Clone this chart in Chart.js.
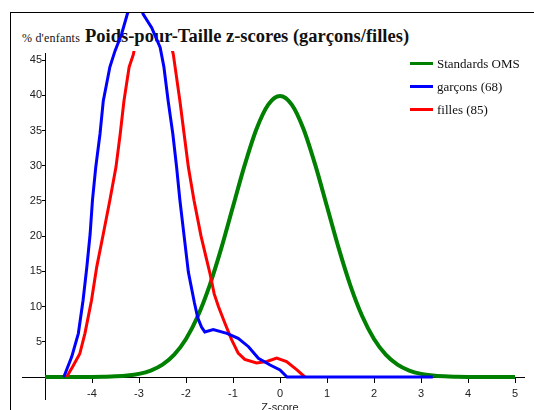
<!DOCTYPE html>
<html>
<head>
<meta charset="utf-8">
<script src="https://cdn.jsdelivr.net/npm/chart.js@4.4.1/dist/chart.umd.min.js"></script>
<style>
  html, body { margin: 0; padding: 0; background: #fff; width: 534px; height: 410px; overflow: hidden; }
  #frame { position: absolute; left: 10px; top: 12px; width: 600px; height: 500px; border-top: 1px solid #000; border-left: 1px solid #000; }
  #heading { position: absolute; left: 22px; top: 27px; line-height: 18px; white-space: nowrap; font-family: "Liberation Serif", serif; color: #111; }
  #heading .unit { display: inline-block; width: 63px; font-size: 12px; letter-spacing: 0.2px; }
  #heading .main { font-size: 18.5px; font-weight: bold; }
  #wrap { position: absolute; left: 11px; top: 13px; width: 523px; height: 397px; }
  #legend { position: absolute; left: 410px; top: 52px; font-family: "Liberation Serif", serif; font-size: 13px; color: #111; }
  #legend .row { height: 23px; display: flex; align-items: center; }
  #legend .swatch { width: 23px; height: 3px; margin-right: 4px; }
</style>
</head>
<body>
<div id="frame"></div>
<div id="heading"><span class="unit">% d'enfants</span><span class="main">Poids-pour-Taille z-scores (garçons/filles)</span></div>
<div id="wrap"><canvas id="zChart" width="523" height="397"></canvas></div>
<div id="legend"></div>
<script>
// OMS reference curve (% of children per z-score)
const whoZ = [-5, -4.75, -4.5, -4.25, -4, -3.75, -3.5, -3.25, -3, -2.75, -2.5, -2.25, -2, -1.75, -1.5, -1.25, -1, -0.75, -0.5, -0.25,
  0, 0.25, 0.5, 0.75, 1, 1.25, 1.5, 1.75, 2, 2.25, 2.5, 2.75, 3, 3.25, 3.5, 3.75, 4, 4.25, 4.5, 4.75, 5];
const whoPct = [0, 0, 0, 0, 0.01, 0.04, 0.09, 0.2, 0.44, 0.91, 1.75, 3.17, 5.4, 8.63, 12.95, 18.26, 24.2, 30.11, 35.21, 38.67,
  39.89, 38.67, 35.21, 30.11, 24.2, 18.26, 12.95, 8.63, 5.4, 3.17, 1.75, 0.91, 0.44, 0.2, 0.09, 0.04, 0.01, 0, 0, 0, 0];

const boysZ = [-4.6, -4.43, -4.29, -4.19, -4.11, -4.04, -3.99, -3.92, -3.83, -3.76, -3.62, -3.51, -3.37, -3.25, -3.08, -2.91,
  -2.73, -2.55, -2.47, -2.38, -2.28, -2.2, -2.13, -2.04, -1.95, -1.82, -1.75, -1.67, -1.6, -1.42, -1.13, -0.89, -0.67, -0.46,
  -0.21, 0, 0.15, 3.25];
const boysPct = [0, 2.9, 6.2, 10.9, 15.6, 20.3, 25.1, 29.8, 34.5, 39.2, 44.0, 46.3, 48.7, 51.5, 54.5, 51.5,
  49.6, 46.8, 44.0, 39.2, 34.5, 29.8, 25.1, 20.0, 14.9, 10.5, 8.4, 7.1, 6.4, 6.75, 6.2, 5.5, 4.3, 2.65,
  1.7, 1.0, 0, 0];

const girlsZ = [-4.54, -4.4, -4.26, -4.15, -4.01, -3.9, -3.76, -3.62, -3.49, -3.4, -3.32, -3.21, -3.12, -2.98, -2.8, -2.6,
  -2.42, -2.27, -2.13, -2.04, -1.95, -1.83, -1.68, -1.58, -1.49, -1.4, -1.31, -1.17, -1.03, -0.89, -0.75, -0.5, -0.28,
  -0.07, 0.14, 0.36, 0.53];
const girlsPct = [0, 1.6, 3.3, 6.2, 10.9, 15.6, 20.3, 25.1, 29.8, 34.5, 39.2, 44.0, 45.8, 51, 53, 53,
  50, 45.8, 39.2, 34.5, 29.8, 25.1, 20.0, 17.2, 14.7, 11.8, 10.0, 7.6, 5.3, 3.4, 2.5, 2.0, 2.2,
  2.7, 2.2, 1.0, 0];

const xTicks = [-4, -3, -2, -1, 0, 1, 2, 3, 4, 5];
const yTicks = [5, 10, 15, 20, 25, 30, 35, 40, 45];
const seriesNames = ["Standards OMS", "garçons (68)", "filles (85)"];
const seriesColors = ["#008000", "#0000ff", "#ff0000"];

function toPoints(xs, ys) {
  return xs.map((x, i) => ({ x: x, y: ys[i] }));
}

const tickFont = { family: "'Liberation Sans', sans-serif", size: 11 };

// axis lines crossing past the origin, like the original software
const axisLines = {
  id: "axisLines",
  beforeDatasetsDraw(chart) {
    const { ctx, chartArea } = chart;
    ctx.save();
    ctx.strokeStyle = "#000";
    ctx.lineWidth = 1;
    ctx.beginPath();
    ctx.moveTo(chartArea.left + 0.5, chartArea.top);
    ctx.lineTo(chartArea.left + 0.5, chartArea.bottom + 23);
    ctx.moveTo(chartArea.left - 23, chartArea.bottom + 0.5);
    ctx.lineTo(chartArea.right + 10, chartArea.bottom + 0.5);
    ctx.stroke();
    ctx.restore();
  },
};

const chart = new Chart(document.getElementById("zChart"), {
  type: "line",
  data: {
    datasets: [
      {
        label: seriesNames[0],
        data: toPoints(whoZ, whoPct),
        borderColor: seriesColors[0],
        borderWidth: 4,
        cubicInterpolationMode: "monotone",
        clip: false,
        order: 3,
      },
      {
        label: seriesNames[1],
        data: toPoints(boysZ, boysPct),
        borderColor: seriesColors[1],
        borderWidth: 3,
        tension: 0,
        clip: false,
        order: 1,
      },
      {
        label: seriesNames[2],
        data: toPoints(girlsZ, girlsPct),
        borderColor: seriesColors[2],
        borderWidth: 3,
        tension: 0,
        clip: 2,
        order: 2,
      },
    ],
  },
  options: {
    responsive: false,
    animation: false,
    layout: { padding: { left: 0, top: 40, right: 19, bottom: 0 } },
    elements: { point: { radius: 0 } },
    plugins: {
      legend: { display: false },
      tooltip: { enabled: false },
    },
    scales: {
      x: {
        type: "linear",
        min: -5,
        max: 5,
        z: 1,
        border: { display: false },
        grid: { drawOnChartArea: false, tickLength: 6, color: "#000" },
        ticks: { font: tickFont, color: "#222", padding: 4, maxRotation: 0, autoSkip: false },
        afterBuildTicks: (scale) => {
          scale.ticks = xTicks.map((v) => ({ value: v }));
        },
        afterFit: (scale) => {
          scale.height = 33;
        },
        title: {
          display: true,
          text: "Z-score",
          font: tickFont,
          color: "#222",
          padding: { top: 0, bottom: -4.5 },
        },
      },
      y: {
        type: "linear",
        min: 0,
        max: 46,
        border: { display: false },
        grid: { drawOnChartArea: false, tickLength: 3, color: "#000" },
        ticks: { font: tickFont, color: "#222", padding: 0 },
        afterBuildTicks: (scale) => {
          scale.ticks = yTicks.map((v) => ({ value: v }));
        },
        afterFit: (scale) => {
          scale.width = 34;
        },
      },
    },
  },
  plugins: [axisLines],
});

// legend drawn as html, built from the chart datasets
const legendBox = document.getElementById("legend");
chart.data.datasets.forEach((ds) => {
  const row = document.createElement("div");
  row.className = "row";
  const swatch = document.createElement("span");
  swatch.className = "swatch";
  swatch.style.background = ds.borderColor;
  const label = document.createElement("span");
  label.textContent = ds.label;
  row.appendChild(swatch);
  row.appendChild(label);
  legendBox.appendChild(row);
});
</script>
</body>
</html>
